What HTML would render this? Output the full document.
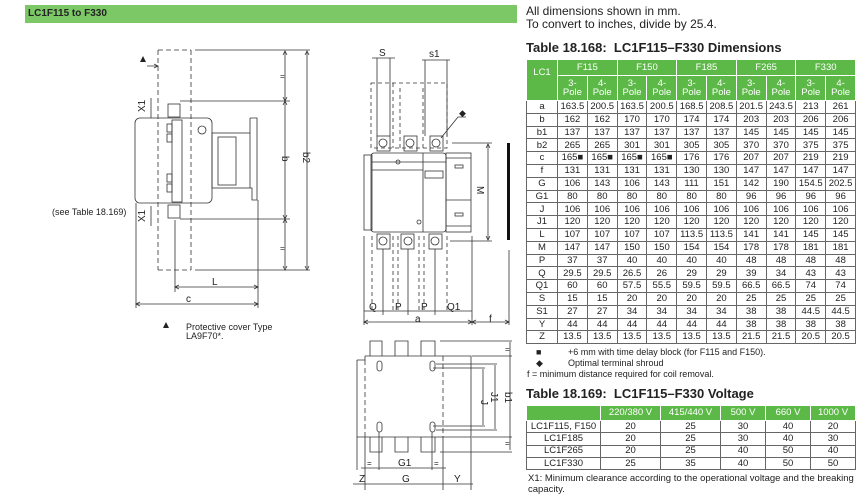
<!DOCTYPE html>
<html><head><meta charset="utf-8"><style>
body{margin:0;width:861px;height:496px;background:#fff;position:relative;overflow:hidden;font-family:"Liberation Sans",Arial,sans-serif;color:#222}
.abs{position:absolute}
table{border-collapse:collapse;table-layout:fixed;position:absolute}
td{padding:0;text-align:center;border:1px solid #666;font-size:9.5px;line-height:1;overflow:hidden;white-space:nowrap}
.g td.h{background:#5cb947;color:#fff;border:1px solid #fff}
</style></head><body>
<div class="abs" style="left:25px;top:5px;width:492px;height:18px;background:#7cc766"></div>
<div class="abs" style="left:28px;top:8px;font-size:10px;font-weight:bold">LC1F115 to F330</div>
<svg class="abs" style="left:0;top:0" width="861" height="496" font-family="Liberation Sans, Arial, sans-serif" font-size="10" fill="none" stroke="#333" stroke-width="0.8">
<path d="M158 50H191 M158 50V270 M191 50V270 M158 270H191" stroke-dasharray="5,3"/>
<path d="M195 50H310 M180 101H290 M180 219H290 M195 270H310"/>
<path d="M285 52V268 M307 52V268" />
<path d="M283 55l2-4 2 4 M283 97l2 4 2-4 M283 105l2-4 2 4 M283 215l2 4 2-4 M283 223l2-4 2 4 M283 266l2 4 2-4 M305 55l2-4 2 4 M305 266l2 4 2-4"/>
<rect x="135" y="118" width="77" height="85" rx="5"/>
<rect x="172" y="120" width="10" height="82"/>
<circle cx="202" cy="130" r="4"/>
<rect x="167" y="124" width="5" height="8"/><rect x="167" y="134" width="5" height="8"/><rect x="167" y="174" width="5" height="8"/><rect x="167" y="184" width="5" height="8"/>
<rect x="212" y="133" width="38" height="55"/><rect x="218" y="137" width="18" height="48"/>
<path d="M250 118H257V200H252V188H250 M250 118V133"/>
<rect x="168" y="104" width="12" height="13"/><rect x="168" y="205" width="12" height="13"/>
<path d="M175 220V292 M136 203V308 M258 200V308"/>
<path d="M175 287H258 M136 304H258 M179 285l-4 2 4 2 M254 285l4 2-4 2 M140 302l-4 2 4 2 M254 302l4 2-4 2"/>
<path d="M147 66H158 M154 64l4 2-4 2 M151 98V118 M151 206V226" />
<polygon points="140,62 146,62 143,56" fill="#222" stroke="none"/>
<polygon points="163,328 169,328 166,322" fill="#222" stroke="none"/>
<g fill="#222" stroke="none">
<text x="145" y="112" transform="rotate(-90 145 112)">X1</text>
<text x="145" y="222" transform="rotate(-90 145 222)">X1</text>
<text x="282" y="156" transform="rotate(90 282 156)">b</text>
<text x="303" y="152" transform="rotate(90 303 152)">b2</text>
<text x="280" y="79" font-size="8">=</text><text x="280" y="251" font-size="8">=</text>
<text x="212" y="285">L</text><text x="186" y="302">c</text>
<text x="52" y="215" font-size="9">(see Table 18.169)</text>
<text x="186" y="330" font-size="9">Protective cover Type</text>
<text x="186" y="339" font-size="9">LA9F70*.</text>
</g>
<path d="M371 83H447V148H371Z M393 83V148 M400 88V148 M423 88V148" stroke-dasharray="4,3"/>
<path d="M377 58V136 M390 58V136 M425 60V136 M447 60V136 M372 58H395 M422 60H450"/>
<rect x="377" y="136" width="13" height="15"/><rect x="404" y="136" width="13" height="15"/><rect x="430" y="136" width="13" height="15"/>
<circle cx="383" cy="143" r="4"/><circle cx="410" cy="143" r="4"/><circle cx="436" cy="143" r="4"/>
<path d="M441 138L458 117H466"/>
<rect x="364" y="155" width="8" height="75"/>
<rect x="371" y="153" width="75" height="79" rx="3"/>
<path d="M372 162H446 M372 170H423 M423 153V232"/>
<rect x="425" y="171" width="18" height="7"/>
<circle cx="398" cy="162" r="2"/><circle cx="419" cy="222" r="2"/>
<rect x="446" y="153" width="25" height="79"/>
<rect x="455" y="165" width="8" height="3"/><rect x="455" y="213" width="8" height="3"/>
<path d="M446 158H471 M446 200H471 M446 226H471"/>
<rect x="377" y="234" width="13" height="15"/><rect x="401" y="234" width="13" height="15"/><rect x="429" y="234" width="13" height="15"/>
<circle cx="383" cy="241" r="4"/><circle cx="408" cy="241" r="4"/><circle cx="435" cy="241" r="4"/>
<path d="M372 236V310 M393 236V310 M398 236V310 M419 236V310 M424 236V310 M447 236V310" stroke-dasharray="4,3"/>
<path d="M364 236V325 M383 249V315 M408 249V315 M435 249V315 M472 236V325 M509 250V325 M452 143H492 M450 241H492 M488 144V240"/>
<path d="M486 148l2-4 2 4 M486 236l2 4 2-4"/>
<rect x="507" y="143" width="3" height="97" fill="#111" stroke="none"/>
<path d="M364 311H472 M364 322H509 M368 320l-4 2 4 2 M468 320l4 2-4 2 M476 320l-4 2 4 2 M505 320l4 2-4 2"/>
<g fill="#222" stroke="none">
<text x="379" y="56">S</text><text x="429" y="57">s1</text>
<text x="459" y="116" font-size="9">◆</text>
<text x="477" y="186" transform="rotate(90 477 186)">M</text>
<text x="369" y="310">Q</text><text x="395" y="310">P</text><text x="421" y="310">P</text><text x="447" y="310">Q1</text>
<text x="415" y="322">a</text><text x="489" y="322">f</text>
</g>
<path d="M370 356V341H382V356 M395 356V341H408V356 M421 356V341H435V356"/>
<path d="M370 437V452H382V437 M395 437V452H408V437 M421 437V452H435V437"/>
<path d="M365 356H471V437H365 M357 360V437H365 M357 360H365V356"/>
<path d="M443 356V437 M365 360V437" stroke-dasharray="5,3"/>
<rect x="377" y="361" width="5" height="10" rx="2.5"/><rect x="430" y="361" width="5" height="10" rx="2.5"/>
<rect x="377" y="422" width="5" height="10" rx="2.5"/><rect x="430" y="422" width="5" height="10" rx="2.5"/>
<path d="M433 368H485 M433 426H485 M483 369V425 M495 365V429 M436 364H497 M436 430H497 M510 342V450 M440 341H512 M472 356H512 M472 437H512 M440 452H512"/>
<path d="M357 437V470 M365 437V490 M379 432V470 M432 432V470 M443 437V490 M471 437V490"/>
<path d="M361 468H446 M353 484H473"/>
<g fill="#222" stroke="none">
<text x="481" y="400" transform="rotate(90 481 400)">J</text>
<text x="491" y="392" transform="rotate(90 491 392)">J1</text>
<text x="505" y="392" transform="rotate(90 505 392)">b1</text>
<text x="505" y="352" font-size="8">=</text><text x="505" y="446" font-size="8">=</text>
<text x="367" y="466" font-size="8">=</text><text x="434" y="466" font-size="8">=</text>
<text x="398" y="466">G1</text><text x="402" y="482">G</text><text x="359" y="482">Z</text><text x="454" y="482">Y</text>
</g>
</svg>

<div class="abs" style="left:526px;top:5px;font-size:12px;line-height:13px">All dimensions shown in mm.<br>To convert to inches, divide by 25.4.</div>
<div class="abs" style="left:526px;top:40px;font-size:13px;font-weight:bold">Table 18.168:&nbsp; LC1F115–F330 Dimensions</div>
<table class="g" style="left:526px;top:59px;width:329px">
<colgroup><col style="width:31px"><col span="10" style="width:29.8px"></colgroup>
<tr style="height:16px"><td class="h" rowspan="2" style="vertical-align:top;padding-top:8px">LC1</td><td class="h" colspan="2">F115</td><td class="h" colspan="2">F150</td><td class="h" colspan="2">F185</td><td class="h" colspan="2">F265</td><td class="h" colspan="2">F330</td></tr>
<tr style="height:25px"><td class="h">3-<br>Pole</td><td class="h">4-<br>Pole</td><td class="h">3-<br>Pole</td><td class="h">4-<br>Pole</td><td class="h">3-<br>Pole</td><td class="h">4-<br>Pole</td><td class="h">3-<br>Pole</td><td class="h">4-<br>Pole</td><td class="h">3-<br>Pole</td><td class="h">4-<br>Pole</td></tr>
<tr style="height:12.8px"><td>a</td><td>163.5</td><td>200.5</td><td>163.5</td><td>200.5</td><td>168.5</td><td>208.5</td><td>201.5</td><td>243.5</td><td>213</td><td>261</td></tr>
<tr style="height:12.8px"><td>b</td><td>162</td><td>162</td><td>170</td><td>170</td><td>174</td><td>174</td><td>203</td><td>203</td><td>206</td><td>206</td></tr>
<tr style="height:12.8px"><td>b1</td><td>137</td><td>137</td><td>137</td><td>137</td><td>137</td><td>137</td><td>145</td><td>145</td><td>145</td><td>145</td></tr>
<tr style="height:12.8px"><td>b2</td><td>265</td><td>265</td><td>301</td><td>301</td><td>305</td><td>305</td><td>370</td><td>370</td><td>375</td><td>375</td></tr>
<tr style="height:12.8px"><td>c</td><td>165■</td><td>165■</td><td>165■</td><td>165■</td><td>176</td><td>176</td><td>207</td><td>207</td><td>219</td><td>219</td></tr>
<tr style="height:12.8px"><td>f</td><td>131</td><td>131</td><td>131</td><td>131</td><td>130</td><td>130</td><td>147</td><td>147</td><td>147</td><td>147</td></tr>
<tr style="height:12.8px"><td>G</td><td>106</td><td>143</td><td>106</td><td>143</td><td>111</td><td>151</td><td>142</td><td>190</td><td>154.5</td><td>202.5</td></tr>
<tr style="height:12.8px"><td>G1</td><td>80</td><td>80</td><td>80</td><td>80</td><td>80</td><td>80</td><td>96</td><td>96</td><td>96</td><td>96</td></tr>
<tr style="height:12.8px"><td>J</td><td>106</td><td>106</td><td>106</td><td>106</td><td>106</td><td>106</td><td>106</td><td>106</td><td>106</td><td>106</td></tr>
<tr style="height:12.8px"><td>J1</td><td>120</td><td>120</td><td>120</td><td>120</td><td>120</td><td>120</td><td>120</td><td>120</td><td>120</td><td>120</td></tr>
<tr style="height:12.8px"><td>L</td><td>107</td><td>107</td><td>107</td><td>107</td><td>113.5</td><td>113.5</td><td>141</td><td>141</td><td>145</td><td>145</td></tr>
<tr style="height:12.8px"><td>M</td><td>147</td><td>147</td><td>150</td><td>150</td><td>154</td><td>154</td><td>178</td><td>178</td><td>181</td><td>181</td></tr>
<tr style="height:12.8px"><td>P</td><td>37</td><td>37</td><td>40</td><td>40</td><td>40</td><td>40</td><td>48</td><td>48</td><td>48</td><td>48</td></tr>
<tr style="height:12.8px"><td>Q</td><td>29.5</td><td>29.5</td><td>26.5</td><td>26</td><td>29</td><td>29</td><td>39</td><td>34</td><td>43</td><td>43</td></tr>
<tr style="height:12.8px"><td>Q1</td><td>60</td><td>60</td><td>57.5</td><td>55.5</td><td>59.5</td><td>59.5</td><td>66.5</td><td>66.5</td><td>74</td><td>74</td></tr>
<tr style="height:12.8px"><td>S</td><td>15</td><td>15</td><td>20</td><td>20</td><td>20</td><td>20</td><td>25</td><td>25</td><td>25</td><td>25</td></tr>
<tr style="height:12.8px"><td>S1</td><td>27</td><td>27</td><td>34</td><td>34</td><td>34</td><td>34</td><td>38</td><td>38</td><td>44.5</td><td>44.5</td></tr>
<tr style="height:12.8px"><td>Y</td><td>44</td><td>44</td><td>44</td><td>44</td><td>44</td><td>44</td><td>38</td><td>38</td><td>38</td><td>38</td></tr>
<tr style="height:12.8px"><td>Z</td><td>13.5</td><td>13.5</td><td>13.5</td><td>13.5</td><td>13.5</td><td>13.5</td><td>21.5</td><td>21.5</td><td>20.5</td><td>20.5</td></tr>
</table>
<div class="abs" style="left:527px;top:347px;font-size:9px;line-height:11px">
<span style="display:inline-block;width:32px;padding-left:9px">■</span>+6 mm with time delay block (for F115 and F150).<br>
<span style="display:inline-block;width:32px;padding-left:9px">◆</span>Optimal terminal shroud<br>
f = minimum distance required for coil removal.</div>
<div class="abs" style="left:526px;top:386px;font-size:13px;font-weight:bold">Table 18.169:&nbsp; LC1F115–F330 Voltage</div>
<table class="g" style="left:526px;top:405px;width:329px">
<colgroup><col style="width:74px"><col style="width:60px"><col style="width:60px"><col style="width:45px"><col style="width:45px"><col style="width:45px"></colgroup>
<tr style="height:15px"><td class="h"></td><td class="h">220/380 V</td><td class="h">415/440 V</td><td class="h">500 V</td><td class="h">660 V</td><td class="h">1000 V</td></tr>
<tr style="height:12.3px"><td>LC1F115, F150</td><td>20</td><td>25</td><td>30</td><td>40</td><td>20</td></tr>
<tr style="height:12.3px"><td>LC1F185</td><td>20</td><td>25</td><td>30</td><td>40</td><td>30</td></tr>
<tr style="height:12.3px"><td>LC1F265</td><td>20</td><td>25</td><td>40</td><td>50</td><td>40</td></tr>
<tr style="height:12.3px"><td>LC1F330</td><td>25</td><td>35</td><td>40</td><td>50</td><td>50</td></tr>
</table>
<div class="abs" style="left:528px;top:473px;font-size:9.5px;line-height:11px;width:330px">X1: Minimum clearance according to the operational voltage and the breaking capacity.</div>
</body></html>
